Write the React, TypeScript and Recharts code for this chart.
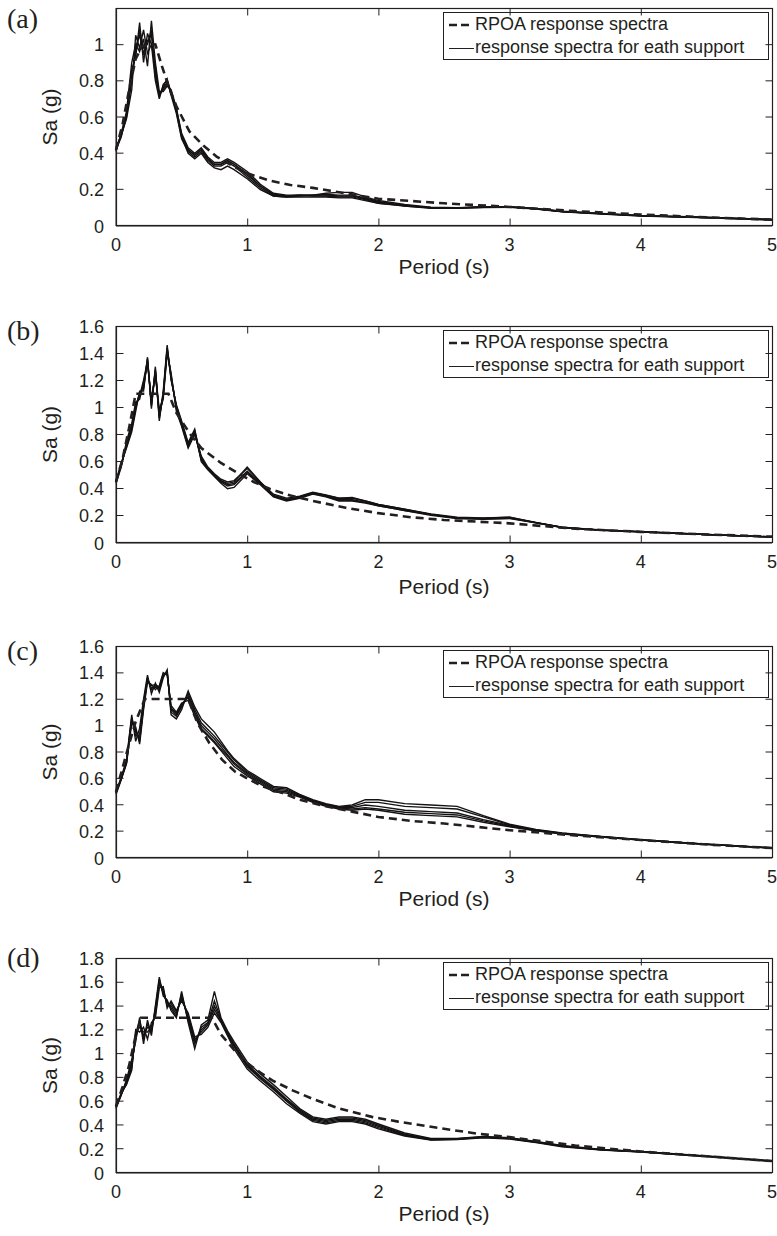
import React from 'react';
import { LineChart, Line, XAxis, YAxis, Legend } from 'recharts';

// period grid shared by the support spectra (s)
const PERIODS = [
  0, 0.04, 0.08, 0.12, 0.15, 0.18, 0.21, 0.24, 0.27, 0.3, 0.33, 0.36, 0.39, 0.42, 0.46, 0.5,
  0.55, 0.6, 0.65, 0.7, 0.75, 0.8, 0.85, 0.9, 1.0, 1.1, 1.2, 1.3, 1.4, 1.5, 1.6, 1.7, 1.8,
  1.9, 2.0, 2.2, 2.4, 2.6, 2.8, 3.0, 3.2, 3.4, 3.7, 4.0, 4.5, 5.0,
];
const X_TICKS = [0, 1, 2, 3, 4, 5];

// (a)
const SUPPORT_A = [
  [0.42, 0.5, 0.6, 0.8, 0.98, 1.05, 0.95, 1.02, 1.05, 0.85, 0.72, 0.76, 0.79, 0.74, 0.64, 0.5, 0.42, 0.39, 0.42, 0.37, 0.34, 0.34, 0.36, 0.34, 0.29, 0.22, 0.17, 0.165, 0.17, 0.17, 0.17, 0.165, 0.165, 0.15, 0.13, 0.115, 0.1, 0.1, 0.105, 0.105, 0.095, 0.08, 0.068, 0.057, 0.047, 0.035],
  [0.42, 0.49, 0.62, 0.86, 0.93, 1.12, 0.9, 1.06, 1.0, 0.8, 0.7, 0.78, 0.8, 0.72, 0.62, 0.48, 0.41, 0.38, 0.41, 0.36, 0.33, 0.33, 0.35, 0.33, 0.27, 0.21, 0.165, 0.16, 0.165, 0.17, 0.175, 0.17, 0.17, 0.155, 0.135, 0.11, 0.1, 0.098, 0.103, 0.104, 0.094, 0.079, 0.067, 0.056, 0.046, 0.034],
  [0.41, 0.51, 0.63, 0.9, 1.0, 0.96, 1.03, 0.88, 1.13, 0.9, 0.74, 0.74, 0.77, 0.75, 0.65, 0.51, 0.43, 0.4, 0.43, 0.38, 0.35, 0.35, 0.37, 0.35, 0.3, 0.23, 0.18, 0.17, 0.17, 0.165, 0.165, 0.16, 0.16, 0.145, 0.125, 0.112, 0.102, 0.1, 0.106, 0.106, 0.096, 0.081, 0.069, 0.058, 0.048, 0.036],
  [0.43, 0.5, 0.59, 0.75, 1.05, 0.98, 1.08, 0.95, 1.0, 0.88, 0.71, 0.77, 0.81, 0.73, 0.63, 0.49, 0.4, 0.37, 0.4, 0.35, 0.32, 0.31, 0.33, 0.31, 0.26, 0.2, 0.165, 0.16, 0.16, 0.16, 0.16, 0.155, 0.155, 0.14, 0.125, 0.11, 0.098, 0.097, 0.102, 0.103, 0.093, 0.078, 0.066, 0.055, 0.045, 0.033],
  [0.42, 0.51, 0.61, 0.83, 0.95, 1.08, 0.98, 1.0, 1.08, 0.82, 0.73, 0.75, 0.78, 0.74, 0.64, 0.5, 0.42, 0.39, 0.42, 0.37, 0.34, 0.34, 0.36, 0.34, 0.28, 0.22, 0.175, 0.165, 0.17, 0.17, 0.18, 0.185, 0.185, 0.16, 0.14, 0.118, 0.104, 0.101, 0.105, 0.105, 0.095, 0.08, 0.068, 0.057, 0.047, 0.035],
];
const RPOA_T_A = [0, 0.05, 0.1, 0.15, 0.2, 0.3, 0.35, 0.4, 0.46, 0.56, 0.67, 0.77, 0.89, 1.0, 1.17, 1.33, 1.5, 1.75, 2.0, 2.5, 3.0, 3.5, 4.0, 4.5, 5.0];
const RPOA_A = [0.42, 0.56, 0.75, 0.92, 0.99, 1.0, 0.88, 0.77, 0.66, 0.52, 0.44, 0.38, 0.33, 0.29, 0.25, 0.226, 0.21, 0.18, 0.15, 0.125, 0.105, 0.082, 0.063, 0.048, 0.035];

// (b)
const SUPPORT_B = [
  [0.45, 0.58, 0.72, 0.85, 1.0, 1.1, 1.15, 1.36, 1.02, 1.28, 0.93, 1.1, 1.44, 1.22, 1.0, 0.88, 0.72, 0.82, 0.62, 0.55, 0.5, 0.46, 0.43, 0.44, 0.53, 0.44, 0.35, 0.32, 0.34, 0.37, 0.35, 0.32, 0.32, 0.3, 0.28, 0.245, 0.21, 0.185, 0.18, 0.185, 0.15, 0.115, 0.095, 0.083, 0.063, 0.045],
  [0.44, 0.56, 0.75, 0.88, 1.04, 1.06, 1.18, 1.32, 1.06, 1.24, 0.96, 1.06, 1.4, 1.25, 0.97, 0.86, 0.7, 0.8, 0.64, 0.56, 0.51, 0.47, 0.45, 0.46, 0.55, 0.45, 0.36, 0.33, 0.345, 0.375, 0.355, 0.33, 0.33, 0.31, 0.285, 0.25, 0.215, 0.19, 0.185, 0.19, 0.152, 0.117, 0.096, 0.084, 0.063, 0.045],
  [0.46, 0.59, 0.7, 0.82, 0.97, 1.12, 1.12, 1.37, 0.99, 1.3, 0.9, 1.12, 1.46, 1.2, 1.02, 0.9, 0.74, 0.84, 0.6, 0.54, 0.49, 0.44, 0.4, 0.41, 0.51, 0.43, 0.34, 0.31, 0.33, 0.36, 0.34, 0.31, 0.31, 0.295, 0.275, 0.24, 0.205, 0.18, 0.175, 0.18, 0.148, 0.113, 0.094, 0.082, 0.062, 0.044],
  [0.45, 0.57, 0.73, 0.86, 1.02, 1.08, 1.2, 1.34, 1.04, 1.26, 0.98, 1.08, 1.42, 1.24, 0.99, 0.87, 0.71, 0.83, 0.63, 0.55, 0.5, 0.46, 0.44, 0.45, 0.56, 0.45, 0.35, 0.32, 0.34, 0.37, 0.35, 0.33, 0.335, 0.31, 0.285, 0.25, 0.21, 0.185, 0.182, 0.19, 0.15, 0.116, 0.095, 0.083, 0.063, 0.045],
  [0.45, 0.58, 0.71, 0.84, 0.99, 1.11, 1.14, 1.35, 1.01, 1.27, 0.92, 1.09, 1.43, 1.21, 1.01, 0.89, 0.73, 0.81, 0.61, 0.545, 0.495, 0.45, 0.42, 0.43, 0.52, 0.435, 0.345, 0.315, 0.335, 0.365, 0.345, 0.315, 0.315, 0.3, 0.275, 0.24, 0.21, 0.183, 0.178, 0.183, 0.149, 0.114, 0.094, 0.082, 0.062, 0.044],
];
const RPOA_T_B = [0, 0.05, 0.1, 0.15, 0.4, 0.46, 0.56, 0.65, 0.8, 0.92, 1.05, 1.17, 1.33, 1.5, 1.75, 2.0, 2.25, 2.5, 3.0, 3.5, 4.0, 4.5, 5.0];
const RPOA_B = [0.45, 0.62, 0.85, 1.1, 1.1, 0.96, 0.81, 0.7, 0.59, 0.52, 0.45, 0.4, 0.35, 0.31, 0.26, 0.22, 0.19, 0.17, 0.145, 0.105, 0.082, 0.063, 0.047];

// (c)
const SUPPORT_C = [
  [0.49, 0.6, 0.72, 1.05, 0.95, 0.9, 1.15, 1.35, 1.28, 1.3, 1.28, 1.38, 1.4, 1.12, 1.08, 1.15, 1.22, 1.1, 1.0, 0.95, 0.9, 0.84, 0.78, 0.72, 0.64, 0.58, 0.52, 0.51, 0.47, 0.43, 0.4, 0.38, 0.38, 0.4, 0.39, 0.36, 0.35, 0.34, 0.29, 0.245, 0.21, 0.185, 0.16, 0.137, 0.104, 0.076],
  [0.5, 0.61, 0.74, 1.08, 0.88, 0.98, 1.2, 1.38, 1.24, 1.32, 1.25, 1.36, 1.42, 1.08, 1.05, 1.12, 1.26, 1.14, 1.05, 1.0, 0.95, 0.88, 0.81, 0.75, 0.66, 0.6, 0.54, 0.53, 0.48, 0.44, 0.41, 0.39, 0.4, 0.44, 0.44, 0.41, 0.4, 0.39, 0.32, 0.255, 0.215, 0.19, 0.162, 0.138, 0.105, 0.077],
  [0.48, 0.59, 0.71, 1.02, 0.99, 0.86, 1.12, 1.33, 1.31, 1.27, 1.3, 1.4, 1.38, 1.15, 1.1, 1.17, 1.19, 1.07, 0.97, 0.92, 0.87, 0.81, 0.75, 0.69, 0.62, 0.56, 0.5, 0.49, 0.46, 0.42, 0.39, 0.37, 0.36, 0.37, 0.36, 0.33, 0.32, 0.31, 0.27, 0.235, 0.205, 0.18, 0.158, 0.135, 0.103, 0.075],
  [0.49, 0.6, 0.73, 1.06, 0.92, 0.93, 1.17, 1.36, 1.27, 1.29, 1.27, 1.37, 1.41, 1.1, 1.07, 1.14, 1.24, 1.12, 1.02, 0.97, 0.92, 0.86, 0.8, 0.74, 0.65, 0.59, 0.53, 0.52, 0.475, 0.435, 0.405, 0.385, 0.39, 0.42, 0.42, 0.39, 0.38, 0.37, 0.31, 0.25, 0.212, 0.187, 0.161, 0.137, 0.104, 0.076],
  [0.49, 0.6, 0.72, 1.04, 0.97, 0.88, 1.14, 1.34, 1.3, 1.31, 1.29, 1.39, 1.39, 1.13, 1.09, 1.16, 1.21, 1.09, 0.98, 0.93, 0.88, 0.82, 0.77, 0.71, 0.63, 0.57, 0.51, 0.5, 0.465, 0.425, 0.395, 0.375, 0.37, 0.38, 0.37, 0.345, 0.335, 0.325, 0.28, 0.24, 0.208, 0.183, 0.159, 0.136, 0.103, 0.075],
];
const RPOA_T_C = [0, 0.05, 0.1, 0.15, 0.22, 0.55, 0.62, 0.71, 0.81, 0.91, 1.02, 1.12, 1.27, 1.4, 1.6, 1.8, 2.0, 2.25, 2.5, 3.0, 3.5, 4.0, 4.5, 5.0];
const RPOA_C = [0.5, 0.68, 0.86, 1.03, 1.2, 1.2, 1.02, 0.87, 0.74, 0.65, 0.59, 0.54, 0.49, 0.44, 0.39, 0.35, 0.31, 0.28, 0.26, 0.21, 0.17, 0.136, 0.102, 0.075];

// (d)
const SUPPORT_D = [
  [0.55, 0.66, 0.76, 0.9, 1.15, 1.25, 1.15, 1.22, 1.2, 1.35, 1.6, 1.52, 1.42, 1.4, 1.33, 1.48, 1.3, 1.1, 1.2, 1.25, 1.4, 1.28, 1.17, 1.07, 0.9, 0.8, 0.71, 0.61, 0.52, 0.45, 0.43, 0.45, 0.45, 0.43, 0.39, 0.32, 0.28, 0.285, 0.3, 0.29, 0.26, 0.225, 0.195, 0.178, 0.14, 0.1],
  [0.54, 0.65, 0.78, 0.95, 1.1, 1.3, 1.08, 1.28, 1.15, 1.4, 1.64, 1.48, 1.45, 1.36, 1.3, 1.52, 1.26, 1.04, 1.24, 1.28, 1.52, 1.3, 1.19, 1.1, 0.93, 0.83, 0.74, 0.64, 0.54, 0.47, 0.45, 0.47, 0.47, 0.45, 0.41, 0.335, 0.29, 0.29, 0.305, 0.295, 0.265, 0.23, 0.198, 0.18, 0.142, 0.102],
  [0.56, 0.67, 0.74, 0.86, 1.2, 1.18, 1.22, 1.12, 1.26, 1.3, 1.55, 1.56, 1.38, 1.44, 1.36, 1.44, 1.34, 1.14, 1.16, 1.22, 1.34, 1.26, 1.15, 1.04, 0.87, 0.77, 0.68, 0.58, 0.5, 0.43, 0.41, 0.43, 0.43, 0.41, 0.37, 0.31, 0.275, 0.28, 0.295, 0.285, 0.255, 0.22, 0.192, 0.176, 0.138, 0.098],
  [0.55, 0.66, 0.77, 0.92, 1.12, 1.28, 1.12, 1.25, 1.18, 1.38, 1.62, 1.5, 1.43, 1.38, 1.31, 1.5, 1.28, 1.08, 1.22, 1.26, 1.44, 1.29, 1.18, 1.08, 0.91, 0.81, 0.72, 0.62, 0.53, 0.46, 0.44, 0.46, 0.46, 0.44, 0.4, 0.325, 0.285, 0.287, 0.302, 0.292, 0.262, 0.227, 0.196, 0.179, 0.141, 0.101],
  [0.55, 0.66, 0.75, 0.88, 1.18, 1.22, 1.18, 1.18, 1.23, 1.32, 1.58, 1.54, 1.4, 1.42, 1.35, 1.46, 1.32, 1.12, 1.18, 1.24, 1.37, 1.27, 1.16, 1.06, 0.89, 0.79, 0.7, 0.6, 0.51, 0.44, 0.42, 0.44, 0.44, 0.42, 0.38, 0.315, 0.278, 0.283, 0.298, 0.288, 0.258, 0.223, 0.194, 0.177, 0.139, 0.099],
];
const RPOA_T_D = [0, 0.05, 0.1, 0.15, 0.19, 0.73, 0.8, 0.9, 1.0, 1.1, 1.2, 1.35, 1.5, 1.7, 1.95, 2.15, 2.5, 2.75, 3.0, 3.5, 4.0, 4.5, 5.0];
const RPOA_D = [0.56, 0.72, 0.9, 1.15, 1.3, 1.3, 1.16, 1.03, 0.92, 0.84, 0.77, 0.69, 0.62, 0.54, 0.47, 0.43, 0.37, 0.33, 0.3, 0.23, 0.18, 0.14, 0.1];

const Y_TICKS_A = [0, 0.2, 0.4, 0.6, 0.8, 1];
const Y_TICKS_BC = [0, 0.2, 0.4, 0.6, 0.8, 1, 1.2, 1.4, 1.6];
const Y_TICKS_D = [0, 0.2, 0.4, 0.6, 0.8, 1, 1.2, 1.4, 1.6, 1.8];

const SANS = '"Liberation Sans", Arial, Helvetica, sans-serif';
const INK = '#231f20';
const W = 777;
const PLOT_L = 116;
const PLOT_W = 656;
const M_TOP = 8;
const X_AXIS_H = 60;
const TICK_LEN = 7;
const X_GAP = 12; // axis line -> x tick label anchor
const Y_GAP = 12; // axis line -> y tick label right edge

const panels = [
  { tag: '(a)', tagTop: 5, top: 8, bottom: 226, yMax: 1.2, yTicks: Y_TICKS_A, support: SUPPORT_A, rpoaT: RPOA_T_A, rpoa: RPOA_A, titleOffset: 12 },
  { tag: '(b)', tagTop: 317, top: 326, bottom: 543, yMax: 1.6, yTicks: Y_TICKS_BC, support: SUPPORT_B, rpoaT: RPOA_T_B, rpoa: RPOA_B, titleOffset: 9 },
  { tag: '(c)', tagTop: 637, top: 646, bottom: 858, yMax: 1.6, yTicks: Y_TICKS_BC, support: SUPPORT_C, rpoaT: RPOA_T_C, rpoa: RPOA_C, titleOffset: 12 },
  { tag: '(d)', tagTop: 944, top: 958, bottom: 1173, yMax: 1.8, yTicks: Y_TICKS_D, support: SUPPORT_D, rpoaT: RPOA_T_D, rpoa: RPOA_D, titleOffset: 12 },
];

const tickText = { fill: INK, fontSize: 18, fontFamily: SANS };

const BottomTick = (props: any) => {
  const { x, y, payload } = props;
  return (
    <text x={x} y={y - X_GAP + 25} textAnchor="middle" {...tickText}>
      {payload.value}
    </text>
  );
};

const LeftTick = (props: any) => {
  const { x, y, payload } = props;
  return (
    <text x={x} y={y + 6.5} textAnchor="end" {...tickText}>
      {payload.value}
    </text>
  );
};

// matlab-style box round the plot, ticks pointing inwards on all four edges
const Frame = ({ p }: { p: (typeof panels)[number] }) => {
  const h = p.bottom - p.top;
  const x0 = PLOT_L + 0.5;
  const x1 = x0 + PLOT_W;
  const y0 = 1.5;
  const y1 = h + 0.5;
  return (
    <svg width={W} height={h + 2} style={{ position: 'absolute', left: 0, top: p.top - 1, pointerEvents: 'none' }}>
      <rect x={x0} y={y0} width={PLOT_W} height={y1 - y0} fill="none" stroke={INK} strokeWidth={1.2} />
      {X_TICKS.map((t) => {
        const px = x0 + (t / 5) * PLOT_W;
        return (
          <g key={`x${t}`}>
            <line x1={px} x2={px} y1={y0} y2={y0 + TICK_LEN} stroke={INK} />
            <line x1={px} x2={px} y1={y1} y2={y1 - TICK_LEN} stroke={INK} />
          </g>
        );
      })}
      {p.yTicks.map((v) => {
        const py = y0 + (y1 - y0) * (1 - v / p.yMax);
        return (
          <g key={`y${v}`}>
            <line x1={x0} x2={x0 + TICK_LEN} y1={py} y2={py} stroke={INK} />
            <line x1={x1} x2={x1 - TICK_LEN} y1={py} y2={py} stroke={INK} />
          </g>
        );
      })}
    </svg>
  );
};

const LegendBox = () => (
  <div
    style={{
      width: 326,
      height: 48,
      boxSizing: 'border-box',
      border: `1px solid ${INK}`,
      background: '#fff',
      fontFamily: SANS,
      fontSize: 18,
      color: INK,
      lineHeight: '23px',
    }}
  >
    <div style={{ display: 'flex', alignItems: 'center', height: 23 }}>
      <svg width={27} height={10} style={{ marginLeft: 4 }}>
        <line x1={1} y1={5} x2={24} y2={5} stroke={INK} strokeWidth={2.5} strokeDasharray="8 4" />
      </svg>
      <span>RPOA response spectra</span>
    </div>
    <div style={{ display: 'flex', alignItems: 'center', height: 23 }}>
      <svg width={27} height={10} style={{ marginLeft: 4 }}>
        <line x1={1} y1={5.5} x2={26} y2={5.5} stroke={INK} strokeWidth={1} />
      </svg>
      <span>response spectra for eath support</span>
    </div>
  </div>
);

const Panel = ({ p }: { p: (typeof panels)[number] }) => {
  const rows = PERIODS.map((T, i) => {
    const row: Record<string, number> = { T };
    p.support.forEach((s, k) => {
      row[`s${k}`] = s[i];
    });
    return row;
  });
  const rpoaRows = p.rpoaT.map((T, i) => ({ T, v: p.rpoa[i] }));
  const plotH = p.bottom - p.top;
  const chartTop = p.top - M_TOP;

  return (
    <>
      <div style={{ position: 'absolute', left: 0, top: chartTop }}>
        <LineChart width={W} height={plotH + M_TOP + X_AXIS_H} margin={{ top: M_TOP, right: W - PLOT_L - PLOT_W, bottom: 0, left: 20 }}>
          <XAxis
            dataKey="T"
            type="number"
            domain={[0, 5]}
            ticks={X_TICKS}
            interval={0}
            height={X_AXIS_H}
            stroke={INK}
            tickSize={0}
            tickMargin={X_GAP}
            tickLine={false}
            tick={<BottomTick />}
            label={{ value: 'Period (s)', position: 'insideBottom', offset: p.titleOffset, style: { fontSize: 21, fill: INK, fontFamily: SANS } }}
          />
          <YAxis
            type="number"
            domain={[0, p.yMax]}
            ticks={p.yTicks}
            interval={0}
            width={PLOT_L - 20}
            stroke={INK}
            tickSize={0}
            tickMargin={Y_GAP}
            tickLine={false}
            tick={<LeftTick />}
            label={{ value: 'Sa (g)', angle: -90, position: 'insideLeft', offset: 30, style: { textAnchor: 'middle', fontSize: 21, fill: INK, fontFamily: SANS } }}
          />
          {p.support.map((_, k) => (
            <Line
              key={k}
              data={rows}
              dataKey={`s${k}`}
              type="linear"
              stroke="#141213"
              strokeWidth={1.4}
              dot={false}
              isAnimationActive={false}
            />
          ))}
          <Line
            data={rpoaRows}
            dataKey="v"
            type="linear"
            stroke={INK}
            strokeWidth={2.6}
            strokeDasharray="8 5"
            dot={false}
            isAnimationActive={false}
          />
          <Legend
            layout="horizontal"
            verticalAlign="middle"
            align="center"
            content={() => <LegendBox />}
            wrapperStyle={{ position: 'absolute', left: 443, top: M_TOP + 4, width: 326, height: 48 }}
          />
        </LineChart>
      </div>
      <Frame p={p} />
      <div
        style={{
          position: 'absolute',
          left: 7,
          top: p.tagTop,
          fontFamily: '"Liberation Serif", "Times New Roman", serif',
          fontSize: 28,
          lineHeight: '28px',
          color: INK,
        }}
      >
        {p.tag}
      </div>
    </>
  );
};

export default function App() {
  return (
    <div style={{ position: 'absolute', left: 0, top: 0, width: W, height: 1236, background: '#fff', overflow: 'hidden' }}>
      {panels.map((p) => (
        <Panel key={p.tag} p={p} />
      ))}
    </div>
  );
}
